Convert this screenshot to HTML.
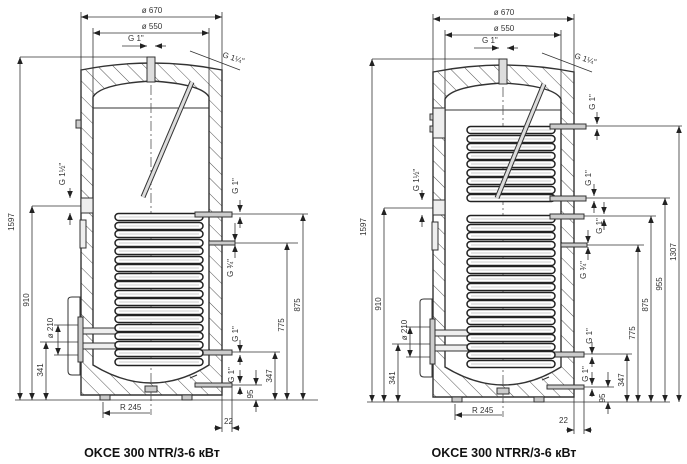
<!DOCTYPE html>
<html><head><meta charset="utf-8"><style>
html,body{margin:0;padding:0;background:#fff;}
svg{display:block;font-family:"Liberation Sans",sans-serif;}
.l{stroke:#333;stroke-width:1;fill:none}
.d{stroke:#333;stroke-width:0.8;fill:none}
.c{stroke:#555;stroke-width:0.8;fill:none;stroke-dasharray:10 3 2 3}
text{font-size:8px;fill:#333}
.ti{font-size:12.5px;font-weight:bold;fill:#111}
</style></head><body>
<svg width="687" height="464" viewBox="0 0 687 464" xmlns="http://www.w3.org/2000/svg">
<defs>
<pattern id="h" width="11" height="11" patternUnits="userSpaceOnUse" patternTransform="rotate(-45)">
<rect width="11" height="11" fill="#fff"/><line x1="0" y1="0" x2="0" y2="11" stroke="#444" stroke-width="0.9"/></pattern>
<marker id="a" viewBox="0 0 10 10" refX="10" refY="5" markerWidth="7" markerHeight="7" orient="auto-start-reverse" markerUnits="userSpaceOnUse"><path d="M0,1 L10,5 L0,9Z" fill="#222"/></marker>
<g id="turn"><rect x="115" y="-3.5" width="88" height="7" rx="3.5" fill="#fff" stroke="#222" stroke-width="1.5"/><line x1="119" y1="0" x2="199" y2="0" stroke="#999" stroke-width="0.6"/></g>
<g id="body">
 <path d="M81,395 L81,70 Q152,56 222,70 L222,395 Z M93,365 L93,97 Q100,84 151,81 Q202,84 209,97 L209,365 Q152,401 93,365 Z" fill="url(#h)" fill-rule="evenodd" stroke="#333" stroke-width="1.4"/>
 <line class="l" x1="93" y1="108" x2="209" y2="108"/>
 <rect x="147" y="57" width="8" height="25" fill="#ddd" stroke="#333"/>
 <line class="c" x1="151" y1="85" x2="151" y2="415"/>
 <rect x="100" y="395" width="10" height="5" fill="#ccc" stroke="#333"/>
 <rect x="145" y="386" width="12" height="6" fill="#ccc" stroke="#333"/>
 <rect x="182" y="395" width="10" height="5" fill="#ccc" stroke="#333"/>
 <path d="M68,300 Q68,297 72,297 L80,297 L80,375 L72,375 Q68,375 68,371 Z" fill="#fff" stroke="#333"/>
 <rect x="78" y="317" width="5" height="45" fill="#ccc" stroke="#333"/>
 <rect x="83" y="328" width="78" height="6" fill="#eee" stroke="#333"/>
 <rect x="83" y="343" width="78" height="6" fill="#eee" stroke="#333"/>
 <rect x="195" y="383" width="37" height="4" fill="#ccc" stroke="#333"/>
 <path d="M190,378 L197,375" class="l"/>
 <rect x="198" y="350" width="34" height="5" fill="#ccc" stroke="#333"/>
 <line class="d" x1="15" y1="400" x2="318" y2="400"/>
</g>
<g id="dimsCommon">
 <line class="d" x1="81" y1="12" x2="81" y2="70"/><line class="d" x1="222" y1="12" x2="222" y2="70"/>
 <line class="d" x1="81" y1="17" x2="222" y2="17" marker-start="url(#a)" marker-end="url(#a)"/>
 <line class="d" x1="93" y1="28" x2="93" y2="100"/><line class="d" x1="209" y1="28" x2="209" y2="100"/>
 <line class="d" x1="93" y1="33" x2="209" y2="33" marker-start="url(#a)" marker-end="url(#a)"/>
 <line class="d" x1="122" y1="46" x2="147" y2="46" marker-end="url(#a)"/><line class="d" x1="166" y1="46" x2="155" y2="46" marker-end="url(#a)"/>
 <line class="d" x1="20" y1="57" x2="150" y2="57"/>
 <line class="d" x1="20" y1="57" x2="20" y2="400" marker-start="url(#a)" marker-end="url(#a)"/>
 <line class="d" x1="190" y1="51" x2="240" y2="70"/>
 <line class="d" x1="46" y1="342" x2="46" y2="400" marker-start="url(#a)" marker-end="url(#a)"/>
 <line class="d" x1="40" y1="342" x2="78" y2="342"/>
 <line class="d" x1="58" y1="325" x2="58" y2="355" marker-start="url(#a)" marker-end="url(#a)"/>
 <line class="d" x1="54" y1="325" x2="78" y2="325"/><line class="d" x1="54" y1="355" x2="78" y2="355"/>
 <line class="d" x1="150" y1="413" x2="103" y2="413" marker-end="url(#a)"/>
 <line class="d" x1="103" y1="402" x2="103" y2="418"/>
 <line class="d" x1="222" y1="395" x2="222" y2="432"/><line class="d" x1="232" y1="387" x2="232" y2="432"/>
 <line class="d" x1="214" y1="428" x2="222" y2="428" marker-end="url(#a)"/><line class="d" x1="240" y1="428" x2="232" y2="428" marker-end="url(#a)"/>
 <line class="d" x1="232" y1="352" x2="280" y2="352"/><line class="d" x1="275" y1="352" x2="275" y2="400" marker-start="url(#a)" marker-end="url(#a)"/>
 <line class="d" x1="232" y1="385" x2="262" y2="385"/>
 <line class="d" x1="256" y1="370" x2="256" y2="385" marker-end="url(#a)"/><line class="d" x1="256" y1="412" x2="256" y2="400" marker-end="url(#a)"/>
 <line class="d" x1="240" y1="340" x2="240" y2="352" marker-end="url(#a)"/><line class="d" x1="240" y1="365" x2="240" y2="355" marker-end="url(#a)"/>
 <line class="d" x1="240" y1="370" x2="240" y2="383" marker-end="url(#a)"/><line class="d" x1="240" y1="395" x2="240" y2="387" marker-end="url(#a)"/>
</g>
</defs>

<!-- LEFT -->
<use href="#body"/>
<use href="#dimsCommon"/>
<rect x="76" y="120" width="5" height="8" fill="#ccc" stroke="#333"/>
<rect x="81" y="198" width="12" height="15" fill="#eee" stroke="#333"/>
<rect x="80" y="220" width="6" height="28" fill="#eee" stroke="#333"/>
<g>
<use href="#turn" y="217"/><use href="#turn" y="226"/><use href="#turn" y="234"/><use href="#turn" y="243"/><use href="#turn" y="251"/><use href="#turn" y="260"/><use href="#turn" y="268"/><use href="#turn" y="277"/><use href="#turn" y="285"/><use href="#turn" y="294"/><use href="#turn" y="302"/><use href="#turn" y="311"/><use href="#turn" y="319"/><use href="#turn" y="328"/><use href="#turn" y="336"/><use href="#turn" y="345"/><use href="#turn" y="353"/><use href="#turn" y="362"/>
</g>
<line x1="192" y1="82" x2="143" y2="197" stroke="#333" stroke-width="5"/>
<line x1="192" y1="82" x2="143" y2="197" stroke="#ddd" stroke-width="3"/>
<rect x="195" y="212" width="37" height="5" fill="#ccc" stroke="#333"/>
<rect x="209" y="241" width="26" height="4" fill="#ccc" stroke="#333"/>
<line class="d" x1="232" y1="214" x2="308" y2="214"/><line class="d" x1="303" y1="214" x2="303" y2="400" marker-start="url(#a)" marker-end="url(#a)"/>
<line class="d" x1="235" y1="243" x2="298" y2="243"/><line class="d" x1="287" y1="243" x2="287" y2="400" marker-start="url(#a)" marker-end="url(#a)"/>
<line class="d" x1="32" y1="206" x2="81" y2="206"/><line class="d" x1="32" y1="206" x2="32" y2="400" marker-start="url(#a)" marker-end="url(#a)"/>
<line class="d" x1="70" y1="188" x2="70" y2="198" marker-end="url(#a)"/><line class="d" x1="70" y1="225" x2="70" y2="213" marker-end="url(#a)"/>
<line class="d" x1="240" y1="200" x2="240" y2="212" marker-end="url(#a)"/><line class="d" x1="240" y1="228" x2="240" y2="217" marker-end="url(#a)"/>
<line class="d" x1="235" y1="223" x2="235" y2="241" marker-end="url(#a)"/><line class="d" x1="235" y1="258" x2="235" y2="245" marker-end="url(#a)"/>
<text x="152" y="13" text-anchor="middle">ø 670</text>
<text x="152" y="29" text-anchor="middle">ø 550</text>
<text x="128" y="41">G 1"</text>
<text x="222" y="57" transform="rotate(18 222 57)">G 1¼"</text>
<text transform="translate(14,222) rotate(-90)" text-anchor="middle">1597</text>
<text transform="translate(29,300) rotate(-90)" text-anchor="middle">910</text>
<text transform="translate(43,370) rotate(-90)" text-anchor="middle">341</text>
<text transform="translate(53,328) rotate(-90)" text-anchor="middle">ø 210</text>
<text transform="translate(65,174) rotate(-90)" text-anchor="middle">G 1½"</text>
<text transform="translate(238,186) rotate(-90)" text-anchor="middle">G 1"</text>
<text transform="translate(233,268) rotate(-90)" text-anchor="middle">G ¾"</text>
<text transform="translate(238,334) rotate(-90)" text-anchor="middle">G 1"</text>
<text transform="translate(234,375) rotate(-90)" text-anchor="middle">G 1"</text>
<text transform="translate(300,305) rotate(-90)" text-anchor="middle">875</text>
<text transform="translate(284,325) rotate(-90)" text-anchor="middle">775</text>
<text transform="translate(272,376) rotate(-90)" text-anchor="middle">347</text>
<text transform="translate(253,394) rotate(-90)" text-anchor="middle">95</text>
<text x="120" y="410">R 245</text>
<text x="224" y="424">22</text>
<text class="ti" x="152" y="457" text-anchor="middle">OKCE 300 NTR/3-6 кВт</text>

<!-- RIGHT -->
<g transform="translate(352,2)">
<use href="#body"/>
<use href="#dimsCommon"/>
<rect x="81" y="106" width="12" height="30" fill="#eee" stroke="#333"/>
<rect x="78" y="112" width="3" height="6" fill="#ccc" stroke="#333"/><rect x="78" y="124" width="3" height="6" fill="#ccc" stroke="#333"/>
<rect x="81" y="198" width="12" height="15" fill="#eee" stroke="#333"/>
<rect x="80" y="220" width="6" height="28" fill="#eee" stroke="#333"/>
<use href="#turn" y="128"/><use href="#turn" y="137"/><use href="#turn" y="145"/><use href="#turn" y="154"/><use href="#turn" y="162"/><use href="#turn" y="171"/><use href="#turn" y="179"/><use href="#turn" y="188"/><use href="#turn" y="196"/>
<use href="#turn" y="217"/><use href="#turn" y="226"/><use href="#turn" y="234"/><use href="#turn" y="243"/><use href="#turn" y="251"/><use href="#turn" y="260"/><use href="#turn" y="268"/><use href="#turn" y="277"/><use href="#turn" y="285"/><use href="#turn" y="294"/><use href="#turn" y="302"/><use href="#turn" y="311"/><use href="#turn" y="319"/><use href="#turn" y="328"/><use href="#turn" y="336"/><use href="#turn" y="345"/><use href="#turn" y="353"/><use href="#turn" y="362"/>
<line x1="192" y1="82" x2="145" y2="196" stroke="#333" stroke-width="5"/>
<line x1="192" y1="82" x2="145" y2="196" stroke="#ddd" stroke-width="3"/>
<rect x="198" y="122" width="36" height="5" fill="#ccc" stroke="#333"/>
<rect x="198" y="194" width="36" height="5" fill="#ccc" stroke="#333"/>
<rect x="198" y="212" width="34" height="5" fill="#ccc" stroke="#333"/>
<rect x="209" y="241" width="26" height="4" fill="#ccc" stroke="#333"/>
<line class="d" x1="234" y1="124" x2="330" y2="124"/><line class="d" x1="327" y1="124" x2="327" y2="400" marker-start="url(#a)" marker-end="url(#a)"/>
<line class="d" x1="234" y1="196" x2="318" y2="196"/><line class="d" x1="313" y1="196" x2="313" y2="400" marker-start="url(#a)" marker-end="url(#a)"/>
<line class="d" x1="232" y1="214" x2="304" y2="214"/><line class="d" x1="299" y1="214" x2="299" y2="400" marker-start="url(#a)" marker-end="url(#a)"/>
<line class="d" x1="235" y1="243" x2="292" y2="243"/><line class="d" x1="286" y1="243" x2="286" y2="400" marker-start="url(#a)" marker-end="url(#a)"/>
<line class="d" x1="32" y1="206" x2="81" y2="206"/><line class="d" x1="32" y1="206" x2="32" y2="400" marker-start="url(#a)" marker-end="url(#a)"/>
<line class="d" x1="70" y1="188" x2="70" y2="198" marker-end="url(#a)"/><line class="d" x1="70" y1="225" x2="70" y2="213" marker-end="url(#a)"/>
<line class="d" x1="245" y1="110" x2="245" y2="122" marker-end="url(#a)"/><line class="d" x1="245" y1="138" x2="245" y2="127" marker-end="url(#a)"/>
<line class="d" x1="242" y1="182" x2="242" y2="194" marker-end="url(#a)"/><line class="d" x1="242" y1="211" x2="242" y2="199" marker-end="url(#a)"/>
<line class="d" x1="252" y1="200" x2="252" y2="212" marker-end="url(#a)"/><line class="d" x1="252" y1="228" x2="252" y2="217" marker-end="url(#a)"/>
<line class="d" x1="236" y1="228" x2="236" y2="241" marker-end="url(#a)"/><line class="d" x1="236" y1="258" x2="236" y2="245" marker-end="url(#a)"/>
<text x="152" y="13" text-anchor="middle">ø 670</text>
<text x="152" y="29" text-anchor="middle">ø 550</text>
<text x="130" y="41">G 1"</text>
<text x="222" y="56" transform="rotate(18 222 56)">G 1¼"</text>
<text transform="translate(14,225) rotate(-90)" text-anchor="middle">1597</text>
<text transform="translate(29,302) rotate(-90)" text-anchor="middle">910</text>
<text transform="translate(43,376) rotate(-90)" text-anchor="middle">341</text>
<text transform="translate(55,328) rotate(-90)" text-anchor="middle">ø 210</text>
<text transform="translate(67,178) rotate(-90)" text-anchor="middle">G 1½"</text>
<text transform="translate(243,100) rotate(-90)" text-anchor="middle">G 1"</text>
<text transform="translate(239,176) rotate(-90)" text-anchor="middle">G 1"</text>
<text transform="translate(250,224) rotate(-90)" text-anchor="middle">G 1"</text>
<text transform="translate(234,268) rotate(-90)" text-anchor="middle">G ¾"</text>
<text transform="translate(240,334) rotate(-90)" text-anchor="middle">G 1"</text>
<text transform="translate(236,372) rotate(-90)" text-anchor="middle">G 1"</text>
<text transform="translate(324,250) rotate(-90)" text-anchor="middle">1307</text>
<text transform="translate(310,282) rotate(-90)" text-anchor="middle">955</text>
<text transform="translate(296,303) rotate(-90)" text-anchor="middle">875</text>
<text transform="translate(283,331) rotate(-90)" text-anchor="middle">775</text>
<text transform="translate(272,378) rotate(-90)" text-anchor="middle">347</text>
<text transform="translate(253,396) rotate(-90)" text-anchor="middle">95</text>
<text x="120" y="411">R 245</text>
<text x="207" y="421">22</text>
<text class="ti" x="152" y="455" text-anchor="middle">OKCE 300 NTRR/3-6 кВт</text>
</g>
</svg>
</body></html>
